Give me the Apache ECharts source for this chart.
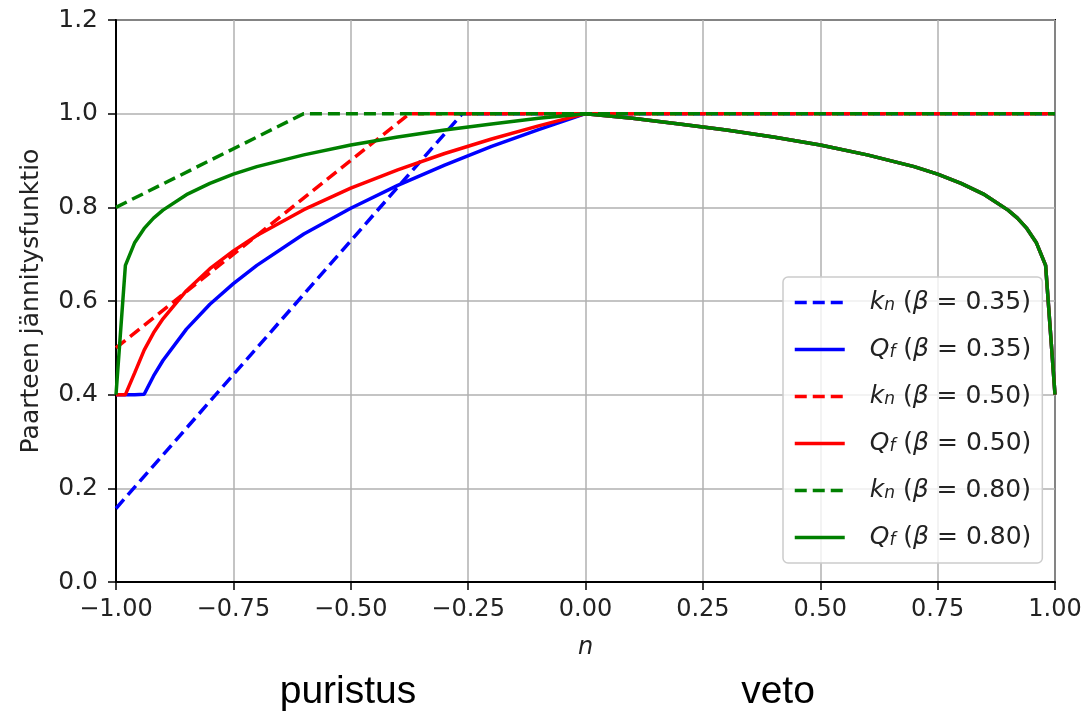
<!DOCTYPE html>
<html>
<head>
<meta charset="utf-8">
<script src="https://cdn.jsdelivr.net/npm/echarts@6/dist/echarts.min.js"></script>
<style>
    html, body { margin: 0; padding: 0; background: #fff; }
    #chart { width: 1088px; height: 718px; }
</style>
</head>
<body>
<div id="chart"></div>
<script>
// n-arvot (puristus- ja vetopuoli)
var nComp = [-1, -0.98, -0.96, -0.94, -0.92, -0.9, -0.85, -0.8, -0.75, -0.7, -0.6, -0.5, -0.4, -0.3, -0.2, -0.1, 0];
var nTens = [0.1, 0.2, 0.3, 0.4, 0.5, 0.6, 0.7, 0.75, 0.8, 0.85, 0.9, 0.92, 0.94, 0.96, 0.98, 1];

// Q_f puristuspuolella
var qf035 = [0.4, 0.4, 0.4, 0.401, 0.44, 0.473, 0.54, 0.593, 0.637, 0.676, 0.743, 0.798, 0.847, 0.89, 0.93, 0.966, 1];
var qf050 = [0.4, 0.4, 0.447, 0.495, 0.532, 0.562, 0.622, 0.669, 0.707, 0.74, 0.795, 0.841, 0.88, 0.915, 0.946, 0.974, 1];
var qf080 = [0.4, 0.676, 0.725, 0.755, 0.777, 0.794, 0.827, 0.851, 0.871, 0.887, 0.912, 0.933, 0.95, 0.965, 0.978, 0.99, 1];
// Q_f vetopuolella (sama kaikille)
var qfTens = [0.99, 0.978, 0.965, 0.95, 0.933, 0.912, 0.887, 0.871, 0.851, 0.827, 0.794, 0.777, 0.755, 0.725, 0.676, 0.4];

// k_n taitepisteet
var knN035 = [-1, -0.2625, 1];
var kn035 = [0.157, 1, 1];
var knN050 = [-1, -0.375, 1];
var kn050 = [0.5, 1, 1];
var knN080 = [-1, -0.6, 1];
var kn080 = [0.8, 1, 1];

function pairs(xs, ys) {
    var out = [];
    for (var i = 0; i < xs.length; i++) {
        out.push([xs[i], ys[i]]);
    }
    return out;
}

function qfData(comp) {
    return pairs(nComp.concat(nTens), comp.concat(qfTens));
}

var legendText = {
    kn035: '{g|}{i|k}{s|n} ({i|β} = 0.35)',
    qf035: '{g|}{i|Q}{s|f} ({i|β} = 0.35)',
    kn050: '{g|}{i|k}{s|n} ({i|β} = 0.50)',
    qf050: '{g|}{i|Q}{s|f} ({i|β} = 0.50)',
    kn080: '{g|}{i|k}{s|n} ({i|β} = 0.80)',
    qf080: '{g|}{i|Q}{s|f} ({i|β} = 0.80)'
};

var blue = '#0000ff';
var red = '#ff0000';
var green = '#008000';
var font = 'DejaVu Sans';

function lineSeries(name, data, color, dashed) {
    return {
        name: name,
        type: 'line',
        data: data,
        symbol: 'none',
        showSymbol: false,
        silent: true,
        animation: false,
        itemStyle: { color: color },
        lineStyle: {
            color: color,
            width: 3.5,
            type: dashed ? [12, 6] : 'solid'
        }
    };
}

var myChart = echarts.init(document.getElementById('chart'), null, { renderer: 'canvas' });

var option = {
    backgroundColor: '#ffffff',
    animation: false,
    grid: {
        left: 116,
        right: 33,
        top: 20,
        bottom: 136,
        show: true,
        borderColor: '#000',
        borderWidth: 2,
        backgroundColor: 'transparent'
    },
    xAxis: {
        type: 'value',
        min: -1,
        max: 1,
        interval: 0.25,
        name: 'n',
        nameLocation: 'middle',
        nameGap: 54,
        nameTextStyle: { fontFamily: font, fontSize: 24, fontStyle: 'italic', color: '#222' },
        axisLine: { show: true, onZero: false, lineStyle: { color: '#000', width: 2 } },
        axisTick: { show: true, length: 8, lineStyle: { color: '#000', width: 1.5 } },
        axisLabel: {
            margin: 16,
            fontFamily: font,
            fontSize: 24,
            color: '#222',
            formatter: function (v) {
                return v.toFixed(2).replace('-', '\u2212');
            }
        },
        splitLine: { show: true, lineStyle: { color: '#b0b0b0', width: 1.5 } }
    },
    yAxis: {
        type: 'value',
        min: 0,
        max: 1.2,
        interval: 0.2,
        name: 'Paarteen jännitysfunktio',
        nameLocation: 'middle',
        nameGap: 72,
        nameTextStyle: { fontFamily: font, fontSize: 25, color: '#222' },
        axisLine: { show: true, onZero: false, lineStyle: { color: '#000', width: 2 } },
        axisTick: { show: true, length: 8, lineStyle: { color: '#000', width: 1.5 } },
        axisLabel: {
            margin: 18,
            fontFamily: font,
            fontSize: 25,
            color: '#222',
            formatter: function (v) {
                return v.toFixed(1);
            }
        },
        splitLine: { show: true, lineStyle: { color: '#b0b0b0', width: 1.5 } }
    },
    legend: {
        orient: 'vertical',
        left: 783,
        top: 277,
        itemWidth: 50,
        itemHeight: 14,
        itemGap: 22,
        padding: [13, 11, 13, 10],
        backgroundColor: 'rgba(255,255,255,0.8)',
        borderColor: '#cccccc',
        borderWidth: 1.5,
        borderRadius: 5,
        selectedMode: false,
        itemStyle: { opacity: 0 },
        lineStyle: { width: 3.5 },
        data: ['kn035', 'qf035', 'kn050', 'qf050', 'kn080', 'qf080'],
        formatter: function (name) {
            return legendText[name];
        },
        textStyle: {
            fontFamily: font,
            fontSize: 25,
            lineHeight: 24,
            color: '#222',
            rich: {
                g: { width: 20, lineHeight: 24 },
                i: { fontFamily: font, fontSize: 25, fontStyle: 'italic', lineHeight: 24, color: '#222' },
                s: { fontFamily: font, fontSize: 17, fontStyle: 'italic', lineHeight: 14, verticalAlign: 'bottom', color: '#222' }
            }
        }
    },
    graphic: [
        {
            type: 'text',
            x: 348,
            y: 692,
            style: {
                text: 'puristus',
                font: '39px "Liberation Sans", Arial, sans-serif',
                fill: '#000',
                textAlign: 'center',
                textVerticalAlign: 'middle'
            }
        },
        {
            type: 'text',
            x: 778,
            y: 692,
            style: {
                text: 'veto',
                font: '39px "Liberation Sans", Arial, sans-serif',
                fill: '#000',
                textAlign: 'center',
                textVerticalAlign: 'middle'
            }
        }
    ],
    series: [
        lineSeries('kn035', pairs(knN035, kn035), blue, true),
        lineSeries('qf035', qfData(qf035), blue, false),
        lineSeries('kn050', pairs(knN050, kn050), red, true),
        lineSeries('qf050', qfData(qf050), red, false),
        lineSeries('kn080', pairs(knN080, kn080), green, true),
        lineSeries('qf080', qfData(qf080), green, false)
    ]
};

myChart.setOption(option);
</script>
</body>
</html>
